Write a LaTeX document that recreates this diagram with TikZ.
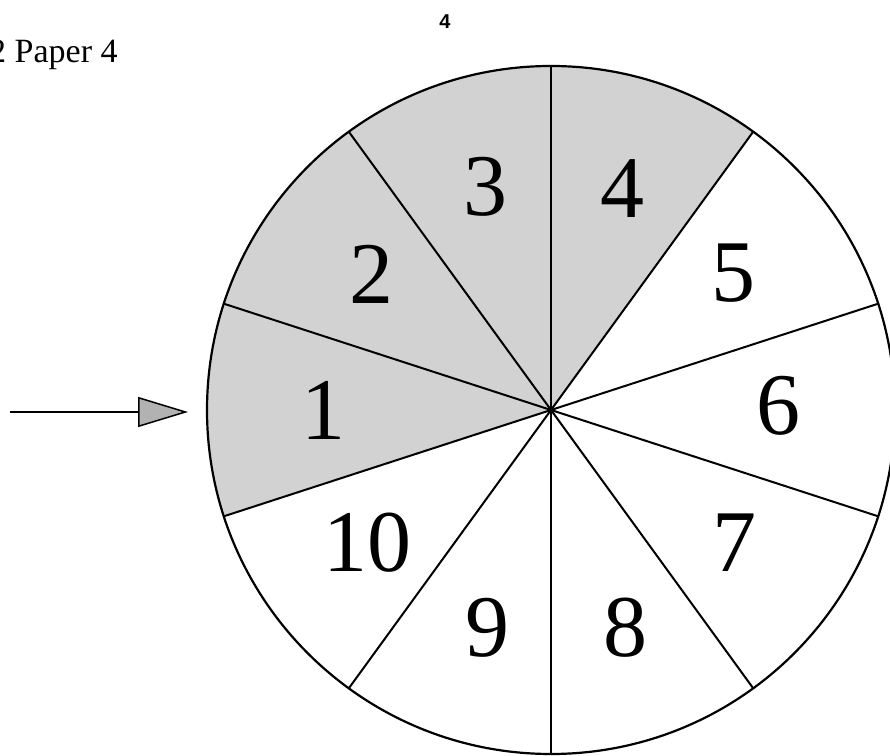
\documentclass[tikz,border=0pt]{standalone}
\usepackage{fontspec}
\setmainfont{Liberation Serif}
\newfontfamily\labelsans{Liberation Sans}
\usetikzlibrary{arrows.meta}
\tikzset{
  shadedsector/.style={fill=gray!35},
  radial/.style={line width=2pt},
  rim/.style={line width=2.2pt},
  numlabel/.style={inner sep=0pt, font=\fontsize{88}{88}\selectfont},
  pointer/.style={line width=2.5pt, -{Triangle[length=50pt,width=30pt,fill=gray!60,line width=1.5pt]}}
}
\begin{document}
\begin{tikzpicture}[x=1pt,y=1pt]
\useasboundingbox (0,0) rectangle (890,755);
\coordinate (C) at (551,345);
% shaded sectors 1-4
\fill[shadedsector] (C) -- ++(54:344) arc[start angle=54, end angle=198, radius=344] -- cycle;
% radial lines
\foreach \a in {18,54,90,126,162,198,234,270,306,342}
  \draw[radial] (C) -- ++(\a:344);
\draw[rim] (C) circle[radius=344];
% labels
\node[numlabel] (n1) at (323,345) {1};
\node[numlabel] (n2) at (371,481) {2};
\node[numlabel] (n3) at (485,568) {3};
\node[numlabel] (n4) at (622,566) {4};
\node[numlabel] (n5) at (733,482) {5};
\node[numlabel] (n6) at (778,349) {6};
\node[numlabel] (n7) at (734,212) {7};
\node[numlabel] (n8) at (625,127) {8};
\node[numlabel] (n9) at (487,127) {9};
\node[numlabel] (n10) at (367,212) {10};
% arrow
\coordinate (tail) at (10,343);
\coordinate (tip) at (188,343);
\draw[pointer] (tail) -- (tip);
% header texts
\node[anchor=base west, inner sep=0pt, font=\fontsize{34}{34}\selectfont] (hdr) at (-11,692) {2 Paper 4};
\node[inner sep=0pt, font=\labelsans\bfseries\fontsize{20}{20}\selectfont] (pg) at (445,733) {4};
\end{tikzpicture}
\end{document}
